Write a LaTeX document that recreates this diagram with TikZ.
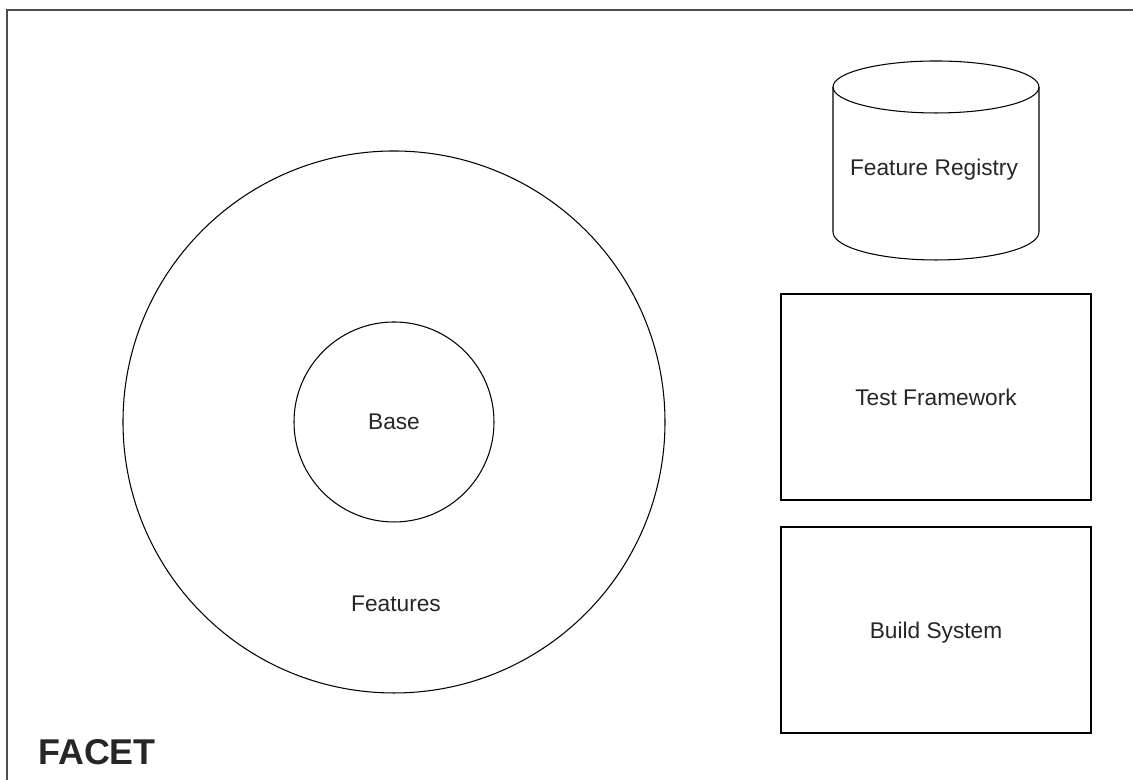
\documentclass[tikz,border=0pt]{standalone}
\usepackage{fontspec}
\setmainfont{Liberation Sans}
\usepackage{tikz}
\usetikzlibrary{shapes.geometric}

\tikzset{
    lbl/.style={font=\fontsize{6.46}{7.5}\selectfont, text=black!85},
    part/.style={draw, line width=0.3pt},
}

\begin{document}
\begin{tikzpicture}
        \useasboundingbox (0, 0) rectangle (11.33, 7.80);
        \draw[line width=0.55pt, black!70] (0.07, 0) -- (0.07, 7.70) -- (11.33, 7.70);

        \node[part, circle, minimum size=5.42cm] (features) at (3.94, 3.58) {};
        \node[part, circle, minimum size=2.00cm, lbl] (base) at (3.94, 3.58) {Base};
        \node[lbl] (featlabel) at (3.96, 1.76) {Features};

        % registry drum
        \coordinate (regtop) at (9.36, 6.93);
        \draw[part] (8.33, 6.93) -- (8.33, 5.48)
            arc[start angle=180, end angle=360, x radius=1.03, y radius=0.28]
            -- (10.39, 6.93);
        \draw[part] (regtop) ellipse (1.03 and 0.26);
        \node[lbl] (registry) at (9.34, 6.10) {Feature Registry};

        \node[part, minimum width=3.10cm, minimum height=2.06cm, lbl] (test) at (9.36, 3.83) {Test Framework};
        \node[part, minimum width=3.10cm, minimum height=2.06cm, lbl] (build) at (9.36, 1.50) {};
        \node[lbl] (buildlabel) at (9.36, 1.47) {Build System};

        \node[font=\bfseries\fontsize{10.2}{12}\selectfont, text=black!85] (facet) at (0.97, 0.28) {FACET};
    \end{tikzpicture}
\end{document}
